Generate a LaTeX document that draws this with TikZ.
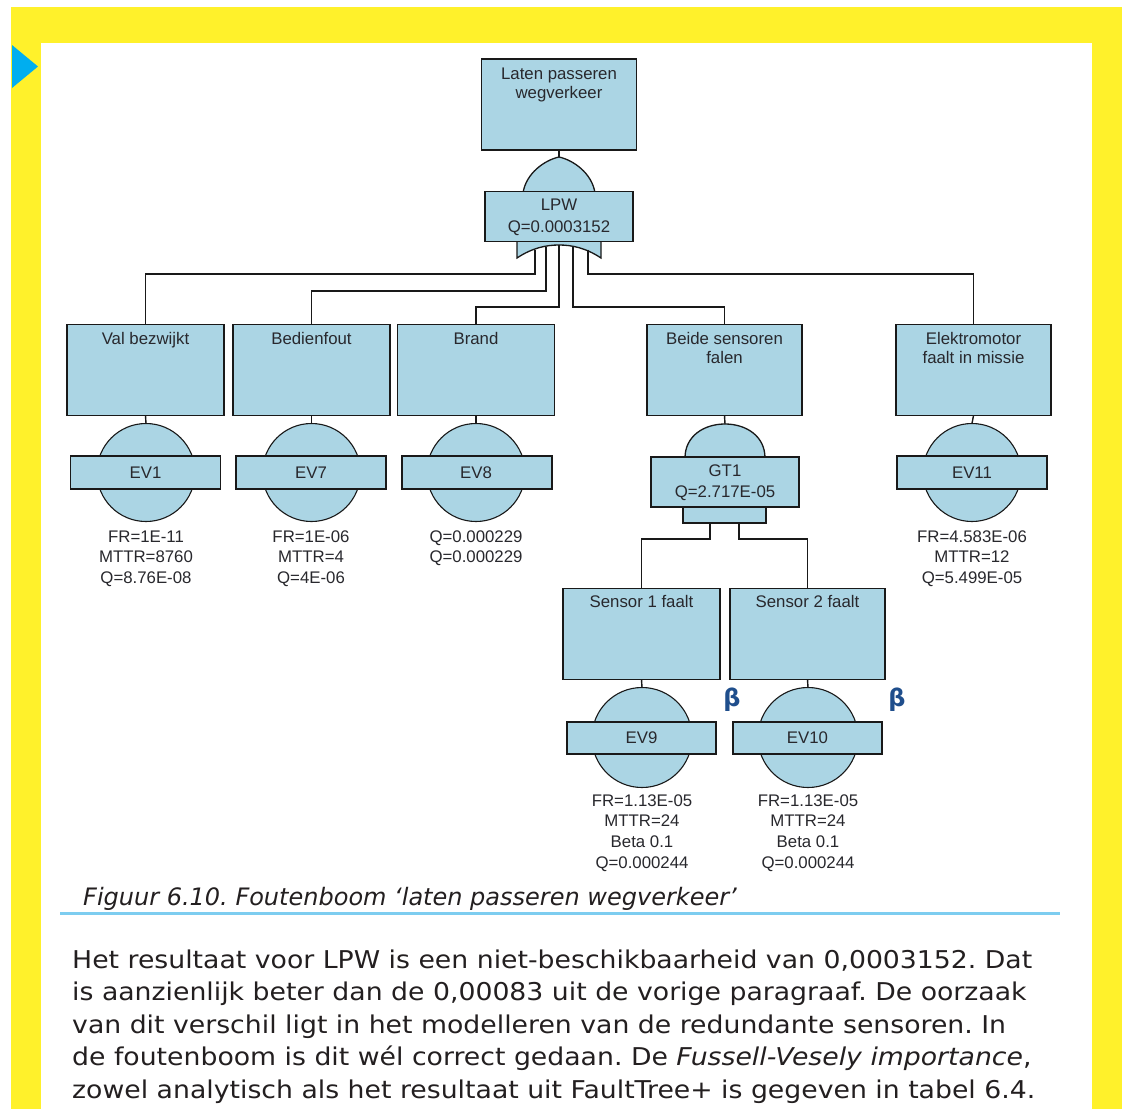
\documentclass[tikz,border=0pt]{standalone}
\usepackage{graphicx}
\usepackage{fontspec}
\setmainfont{DejaVu Sans}
\newfontfamily\ftfont{Liberation Sans}
\newfontfamily\bodyfont{DejaVu Sans}
\usetikzlibrary{calc}
\frenchspacing
\definecolor{frameyellow}{RGB}{255,241,43}
\definecolor{markblue}{RGB}{0,174,239}
\definecolor{ftblue}{RGB}{171,213,228}
\definecolor{lineblk}{RGB}{25,25,25}
\definecolor{fttext}{RGB}{40,40,45}
\definecolor{betablue}{RGB}{31,78,140}
\definecolor{rulecyan}{RGB}{125,205,240}
\definecolor{bodytext}{RGB}{35,31,32}
\newcommand{\wide}[1]{\scalebox{1.09}[1]{#1}}
\begin{document}
\begin{tikzpicture}[x=1pt,y=-1pt,
  wire/.style={line width=1.4pt, draw=lineblk},
  evbox/.style={draw=lineblk, line width=1.4pt, fill=ftblue, minimum width=157pt, minimum height=91pt, inner sep=0pt, outer sep=0pt},
  evtag/.style={draw=lineblk, line width=1.4pt, fill=ftblue, minimum width=150pt, minimum height=33pt, inner sep=0pt, outer sep=0pt},
  gatetag/.style={draw=lineblk, line width=1.4pt, fill=ftblue, minimum width=148pt, minimum height=50pt, inner sep=0pt, outer sep=0pt},
  evcirc/.style={draw=lineblk, line width=1.1pt, fill=ftblue, circle, minimum size=98pt, inner sep=0pt, outer sep=0pt},
  gateshape/.style={draw=lineblk, line width=1.3pt, fill=ftblue},
  ftxt/.style={font=\ftfont\fontsize{16.8}{19}\selectfont, text=fttext, inner sep=0pt, anchor=base},
  betamark/.style={font=\bodyfont\bfseries\fontsize{24}{28}\selectfont, text=betablue, inner sep=0pt, anchor=base},
  bodyline/.style={font=\bodyfont\fontsize{24.5}{32}\selectfont, text=bodytext, inner sep=0pt, anchor=base west},
]
% page and frame
\useasboundingbox (0,0) rectangle (1125,1109);
\fill[white] (0,0) rectangle (1125,1109);
\fill[frameyellow] (11,7) rectangle (41,1109);
\fill[frameyellow] (11,7) rectangle (1122,43);
\fill[frameyellow] (1092,7) rectangle (1122,1109);
\fill[markblue] (12,45) -- (38,66.5) -- (12,88) -- cycle;

% ---------- top event and OR gate ----------
\node[evbox, minimum width=155pt] (top) at (559,104.5) {};
\node[ftxt] (topt1) at (559,79) {Laten passeren};
\node[ftxt] (topt2) at (559,98) {wegverkeer};

\path[gateshape] (523,193) .. controls (526,173) and (545,160) .. (559,157)
      .. controls (573,160) and (592,173) .. (595,193);
\path[gateshape] (517,240) -- (517,258) .. controls (532,248) and (546,245) .. (559,245)
      .. controls (572,245) and (586,248) .. (601,258) -- (601,240);
\node[gatetag] (lpw) at (559,216.5) {};
\node[ftxt] (lpwt1) at (559,210) {LPW};
\node[ftxt] (lpwt2) at (559,232) {Q=0.0003152};
\coordinate (lpwin) at (559,157);
\draw[wire] (top.south) -- (lpwin);

% gate output pins and bus levels
\coordinate (p1) at (535,249.5);
\coordinate (p2) at (546,246.5);
\coordinate (p3) at (559,245);
\coordinate (p4) at (573,246);
\coordinate (p5) at (588,249.5);
\coordinate (busA) at (0,274);
\coordinate (busB) at (0,291);
\coordinate (busC) at (0,307);

% ---------- intermediate events ----------
\node[evbox] (val) at (145.5,370) {};
\node[ftxt] (valt) at (145.5,344) {Val bezwijkt};
\node[evbox] (bed) at (311.5,370) {};
\node[ftxt] (bedt) at (311.5,344) {Bedienfout};
\node[evbox] (brand) at (476,370) {};
\node[ftxt] (brandt) at (476,344) {Brand};
\node[evbox, minimum width=155pt] (beide) at (724.5,370) {};
\node[ftxt] (beidet1) at (724.5,344) {Beide sensoren};
\node[ftxt] (beidet2) at (724.5,363) {falen};
\node[evbox, minimum width=155pt] (elek) at (973.5,370) {};
\node[ftxt] (elekt1) at (973.5,344) {Elektromotor};
\node[ftxt] (elekt2) at (973.5,363) {faalt in missie};

\draw[wire] (p1) -- (p1 |- busA) -| (val.north);
\draw[wire] (p2) -- (p2 |- busB) -| (bed.north);
\draw[wire] (p3) -- (p3 |- busC) -| (brand.north);
\draw[wire] (p4) -- (p4 |- busC) -| (beide.north);
\draw[wire] (p5) -- (p5 |- busA) -| (elek.north);

% ---------- basic events ----------
\node[evcirc] (ev1c) at (146,472.5) {};
\node[evtag] (ev1) at (145.5,472.5) {};
\node[ftxt] (ev1t) at (145.5,478) {EV1};
\draw[wire] (val.south) -- (ev1c.north);
\foreach \t [count=\i] in {FR=1E-11, MTTR=8760, Q=8.76E-08}
  \node[ftxt] (ev1d\i) at (146,{542+20.5*(\i-1)}) {\t};

\node[evcirc] (ev7c) at (311.5,472.5) {};
\node[evtag] (ev7) at (311,472.5) {};
\node[ftxt] (ev7t) at (311,478) {EV7};
\draw[wire] (bed.south) -- (ev7c.north);
\foreach \t [count=\i] in {FR=1E-06, MTTR=4, Q=4E-06}
  \node[ftxt] (ev7d\i) at (311,{542+20.5*(\i-1)}) {\t};

\node[evcirc] (ev8c) at (476,472.5) {};
\node[evtag] (ev8) at (477,472.5) {};
\node[ftxt] (ev8t) at (476,478) {EV8};
\draw[wire] (brand.south) -- (ev8c.north);
\foreach \t [count=\i] in {Q=0.000229, Q=0.000229}
  \node[ftxt] (ev8d\i) at (476,{542+20.5*(\i-1)}) {\t};

\node[evcirc] (ev11c) at (972,472.5) {};
\node[evtag] (ev11) at (972,472.5) {};
\node[ftxt] (ev11t) at (972,478) {EV11};
\draw[wire] (elek.south) -- (ev11c.north);
\foreach \t [count=\i] in {FR=4.583E-06, MTTR=12, Q=5.499E-05}
  \node[ftxt] (ev11d\i) at (972,{542+20.5*(\i-1)}) {\t};

% ---------- AND gate GT1 ----------
\path[gateshape] (685,458) .. controls (685,436) and (704,424) .. (725,424)
      .. controls (746,424) and (765,436) .. (765,458);
\node[draw=lineblk, line width=1.4pt, fill=ftblue, minimum width=83pt, minimum height=18pt,
      inner sep=0pt, outer sep=0pt] (gt1b) at (724.5,514) {};
\node[gatetag] (gt1) at (725,482) {};
\node[ftxt] (gt1t1) at (725,476) {GT1};
\node[ftxt] (gt1t2) at (725,497) {Q=2.717E-05};
\coordinate (gt1in) at (725,424);
\draw[wire] (beide.south) -- (gt1in);

\coordinate (q1) at (710,523);
\coordinate (q2) at (739,523);
\coordinate (busD) at (0,539);

\node[evbox] (s1) at (641.5,634) {};
\node[ftxt] (s1t) at (641.5,607) {Sensor 1 faalt};
\node[evbox, minimum width=155pt] (s2) at (807.5,634) {};
\node[ftxt] (s2t) at (807.5,607) {Sensor 2 faalt};

\draw[wire] (q1) -- (q1 |- busD) -| (s1.north);
\draw[wire] (q2) -- (q2 |- busD) -| (s2.north);

\node[evcirc, minimum size=100pt] (ev9c) at (642,737.5) {};
\node[evtag, minimum width=149pt, minimum height=32pt] (ev9) at (641.5,738) {};
\node[ftxt] (ev9t) at (641.5,743) {EV9};
\draw[wire] (s1.south) -- (ev9c.north);
\foreach \t [count=\i] in {FR=1.13E-05, MTTR=24, Beta 0.1, Q=0.000244}
  \node[ftxt] (ev9d\i) at (642,{806+20.7*(\i-1)}) {\t};

\node[evcirc, minimum size=100pt] (ev10c) at (808,737.5) {};
\node[evtag, minimum width=149pt, minimum height=32pt] (ev10) at (807.5,738) {};
\node[ftxt] (ev10t) at (807.5,743) {EV10};
\draw[wire] (s2.south) -- (ev10c.north);
\foreach \t [count=\i] in {FR=1.13E-05, MTTR=24, Beta 0.1, Q=0.000244}
  \node[ftxt] (ev10d\i) at (808,{806+20.7*(\i-1)}) {\t};

\node[betamark] (b1) at (732,706) {β};
\node[betamark] (b2) at (897,706) {β};

% ---------- caption and body text ----------
\node[font=\bodyfont\itshape\fontsize{24}{28}\selectfont, text=bodytext, inner sep=0pt, anchor=base west]
  (cap) at (83,905) {Figuur 6.10. Foutenboom ‘laten passeren wegverkeer’};
\draw[rulecyan, line width=3pt] (60,913.5) -- (1060,913.5);

\node[bodyline] (l1) at (72,968) {\wide{Het resultaat voor LPW is een niet-beschikbaarheid van 0,0003152. Dat}};
\node[bodyline] (l2) at (72,1000.5) {\wide{is aanzienlijk beter dan de 0,00083 uit de vorige paragraaf. De oorzaak}};
\node[bodyline] (l3) at (72,1033) {\wide{van dit verschil ligt in het modelleren van de redundante sensoren. In}};
\node[bodyline] (l4) at (72,1065.5) {\wide{de foutenboom is dit wél correct gedaan. De \textit{Fussell-Vesely importance},}};
\node[bodyline] (l5) at (72,1098) {\wide{zowel analytisch als het resultaat uit FaultTree+ is gegeven in tabel 6.4.}};
\end{tikzpicture}
\end{document}
